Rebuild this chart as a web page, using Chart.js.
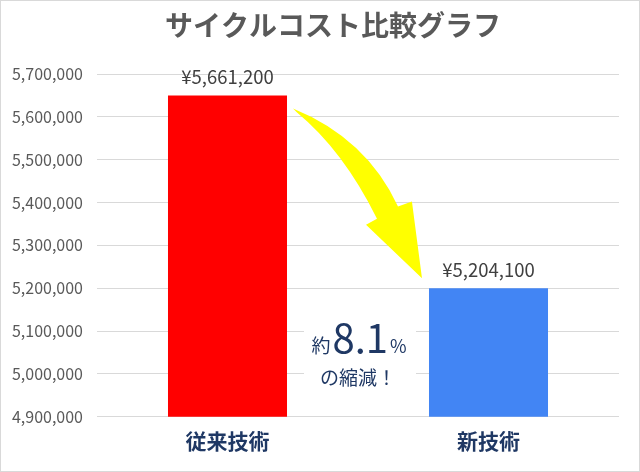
<!DOCTYPE html>
<html>
<head>
<meta charset="utf-8">
<script src="https://cdn.jsdelivr.net/npm/chart.js@4"></script>
<style>
  html, body { margin: 0; padding: 0; background: #fff; }
  #wrap { width: 640px; height: 472px; }
</style>
</head>
<body>
<div id="wrap"><canvas id="myChart" width="640" height="472"></canvas></div>
<script>
const categories  = ['従来技術', '新技術'];
const costValues  = [5650000, 5200000];
const valueLabels = ['¥5,661,200', '¥5,204,100'];
const barColors   = ['#ff0000', '#4285f4'];
const yMin  = 4900000;
const yMax  = 5700000;
const yStep = 100000;
const chartTitle = 'サイクルコスト比較グラフ';

const JP_FONT = '"Noto Sans CJK JP", "Noto Sans", sans-serif';
const NAVY = '#1f3864';

// arrow outline, in fractions of the box from the start point to the tip
const arrowShape = {
    outerCtrl: [0.570, 0.176], outerEnd: [0.814, 0.577],
    headRight: [0.922, 0.548], tip: [1, 1],
    headLeft: [0.566, 0.685], innerStart: [0.651, 0.649],
    innerCtrl: [0.388, 0.247], innerEnd: [0.031, 0.024]
};

const extras = {
    id: 'extras',
    beforeDraw(chart) {
        const ctx = chart.ctx;
        ctx.save();
        ctx.fillStyle = '#ffffff';
        ctx.fillRect(0, 0, chart.width, chart.height);
        // title, sitting a little right of centre like the original
        ctx.font = 'bold 28px ' + JP_FONT;
        ctx.fillStyle = '#595959';
        ctx.textAlign = 'center';
        ctx.textBaseline = 'middle';
        ctx.fillText(chartTitle, 333, 25);
        ctx.restore();
    },
    afterDatasetsDraw(chart) {
        const ctx = chart.ctx;
        const meta = chart.getDatasetMeta(0);
        const y = chart.scales.y;

        // value labels above the bars
        ctx.save();
        ctx.font = '18.5px ' + JP_FONT;
        ctx.fillStyle = '#404040';
        ctx.textAlign = 'center';
        ctx.textBaseline = 'bottom';
        meta.data.forEach((bar, i) => {
            ctx.fillText(valueLabels[i], bar.x, bar.y - 9);
        });
        ctx.restore();

        // curved yellow arrow from bar 1 towards bar 2
        const b1 = meta.data[0], b2 = meta.data[1];
        const sx = b1.x + b1.width / 2 + 6, sy = b1.y + 13;
        const tx = b2.x - b2.width / 2 - 7, ty = b2.y - 10;
        const P = p => [sx + p[0] * (tx - sx), sy + p[1] * (ty - sy)];
        const a = arrowShape;
        ctx.save();
        ctx.fillStyle = '#ffff00';
        ctx.beginPath();
        ctx.moveTo(sx, sy);
        let c = P(a.outerCtrl), e = P(a.outerEnd);
        ctx.quadraticCurveTo(c[0], c[1], e[0], e[1]);
        ['headRight', 'tip', 'headLeft', 'innerStart'].forEach(k => {
            const q = P(a[k]);
            ctx.lineTo(q[0], q[1]);
        });
        c = P(a.innerCtrl); e = P(a.innerEnd);
        ctx.quadraticCurveTo(c[0], c[1], e[0], e[1]);
        ctx.closePath();
        ctx.fill();
        ctx.restore();

        // reduction note between the bars
        const cx = (b1.x + b2.x) / 2;
        const base1 = y.getPixelForValue(5050000);
        const mid2 = y.getPixelForValue(4990000);
        ctx.save();
        ctx.fillStyle = '#ffffff';
        ctx.fillRect(cx - 54, base1 - 34, 112, 80);
        ctx.fillStyle = NAVY;
        ctx.textBaseline = 'alphabetic';
        const parts = [['約', '19px ' + JP_FONT], ['8.1', '40px ' + JP_FONT], ['%', '18px ' + JP_FONT]];
        let total = 0;
        parts.forEach(p => { ctx.font = p[1]; total += ctx.measureText(p[0]).width + 2; });
        let x = cx - total / 2 + 2;
        ctx.textAlign = 'left';
        parts.forEach(p => {
            ctx.font = p[1];
            ctx.fillText(p[0], x, base1);
            x += ctx.measureText(p[0]).width + 2;
        });
        ctx.font = '19px ' + JP_FONT;
        ctx.textAlign = 'center';
        ctx.textBaseline = 'middle';
        ctx.fillText('の縮減！', cx, mid2);
        ctx.restore();
    },
    afterDraw(chart) {
        const ctx = chart.ctx;
        ctx.save();
        ctx.strokeStyle = '#d9d9d9';
        ctx.lineWidth = 1;
        ctx.strokeRect(0.5, 0.5, chart.width - 1, chart.height - 1);
        ctx.restore();
    }
};

new Chart(document.getElementById('myChart').getContext('2d'), {
    type: 'bar',
    data: {
        labels: categories,
        datasets: [{
            data: costValues,
            backgroundColor: barColors,
            barPercentage: 0.456,
            categoryPercentage: 1
        }]
    },
    options: {
        responsive: false,
        animation: false,
        layout: { padding: { left: 0, right: 21, top: 74, bottom: 14 } },
        plugins: {
            legend: { display: false },
            tooltip: { enabled: false },
            title: { display: false }
        },
        scales: {
            x: {
                grid: { display: false },
                border: { display: false },
                ticks: {
                    color: NAVY,
                    padding: 4,
                    font: { family: JP_FONT, size: 21, weight: 'bold' }
                }
            },
            y: {
                min: yMin,
                max: yMax,
                grid: { color: '#d9d9d9', drawTicks: false },
                border: { display: false },
                afterFit(scale) { scale.width = 97; },
                ticks: {
                    stepSize: yStep,
                    color: '#595959',
                    padding: 14,
                    font: { family: JP_FONT, size: 16 },
                    callback: v => v.toLocaleString('en-US')
                }
            }
        }
    },
    plugins: [extras]
});
</script>
</body>
</html>
